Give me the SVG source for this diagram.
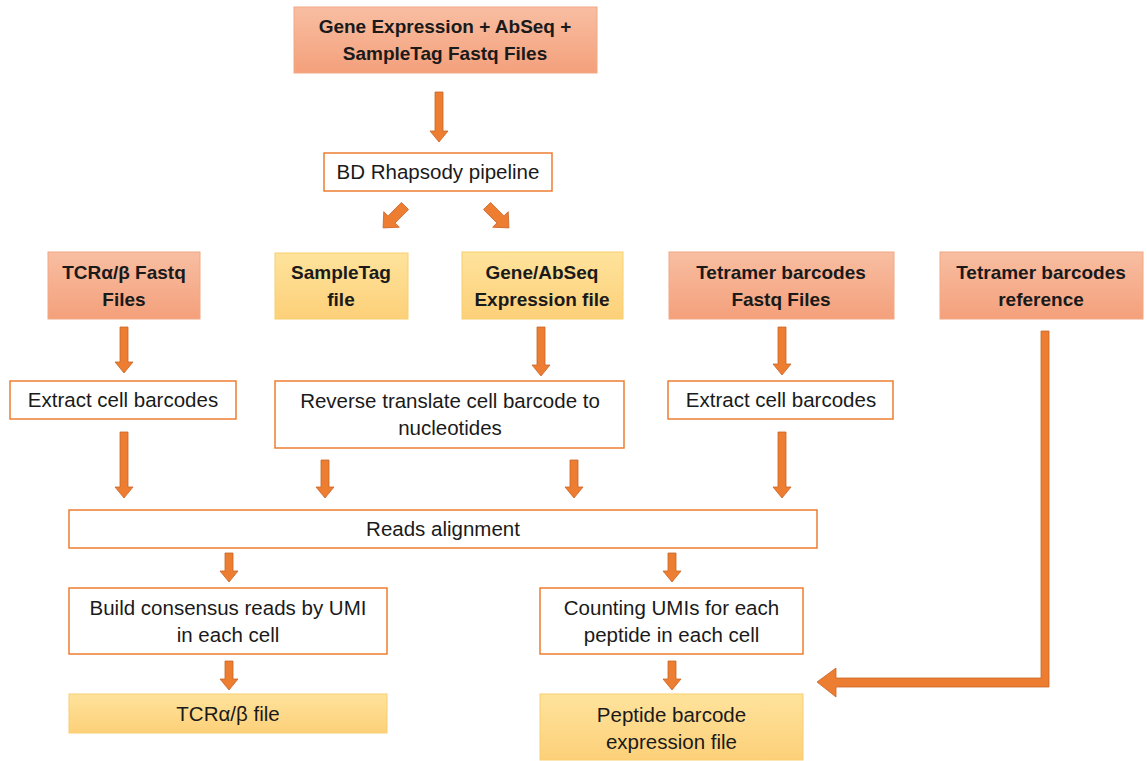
<svg xmlns="http://www.w3.org/2000/svg" width="1147" height="761" viewBox="0 0 1147 761">
<defs>
<linearGradient id="salmon" x1="0" y1="0" x2="0" y2="1">
<stop offset="0" stop-color="#f8bea2"/>
<stop offset="1" stop-color="#f4a07b"/>
</linearGradient>
<linearGradient id="yellow" x1="0" y1="0" x2="0" y2="1">
<stop offset="0" stop-color="#fee39c"/>
<stop offset="1" stop-color="#fdd079"/>
</linearGradient>
<style>
.s{fill:url(#salmon);stroke:#f1a883;stroke-width:1}
.y{fill:url(#yellow);stroke:#f8cf6f;stroke-width:1}
.w{fill:#ffffff;stroke:#ed7d31;stroke-width:1.5}
.b{font-family:"Liberation Sans",Arial,sans-serif;font-weight:bold;font-size:19px;fill:#1a1a1a;text-anchor:middle}
.t{font-family:"Liberation Sans",Arial,sans-serif;font-size:20.5px;fill:#1a1a1a;text-anchor:middle}
.a{fill:#ed7d31;stroke:#c8652a;stroke-width:0.8}
</style>
</defs>
<rect width="1147" height="761" fill="#ffffff"/>

<g id="connectors">
<polygon class="a" points="435,92 443,92 443,131 448,131 439,142 430,131 435,131"/>
<polygon class="a" transform="translate(405,206) rotate(45)" points="-5,0 5,0 5,19 11,19 0,31 -11,19 -5,19"/>
<polygon class="a" transform="translate(487,206) rotate(-45)" points="-5,0 5,0 5,19 11,19 0,31 -11,19 -5,19"/>
<polygon class="a" points="120,327 128,327 128,362 133,362 124,373 115,362 120,362"/>
<polygon class="a" points="537,327 545,327 545,365 550,365 541,376 532,365 537,365"/>
<polygon class="a" points="778,327 786,327 786,364 791,364 782,375 773,364 778,364"/>
<polygon class="a" points="120,432 128,432 128,487 133,487 124,498 115,487 120,487"/>
<polygon class="a" points="321,460 329,460 329,487 334,487 325,498 316,487 321,487"/>
<polygon class="a" points="570,460 578,460 578,487 583,487 574,498 565,487 570,487"/>
<polygon class="a" points="778,432 786,432 786,487 791,487 782,498 773,487 778,487"/>
<polygon class="a" points="225,553 233,553 233,571 238,571 229,582 220,571 225,571"/>
<polygon class="a" points="668,553 676,553 676,571 681,571 672,582 663,571 668,571"/>
<polygon class="a" points="225,661 233,661 233,679 238,679 229,690 220,679 225,679"/>
<polygon class="a" points="668,661 676,661 676,679 681,679 672,690 663,679 668,679"/>
<polygon class="a" points="1041,331 1049,331 1049,687 836,687 836,697 817,682 836,668 836,678 1041,678"/>
</g>

<g id="n-fastq-main">
<rect class="s" x="294" y="7" width="303" height="66"/>
<text class="b" x="445" y="33">Gene Expression + AbSeq +</text>
<text class="b" x="445" y="60">SampleTag Fastq Files</text>
</g>

<g id="n-bd">
<rect class="w" x="324" y="153" width="228" height="38"/>
<text class="t" x="438" y="179">BD Rhapsody pipeline</text>
</g>

<g id="n-tcr-fastq">
<rect class="s" x="48" y="252" width="152" height="67"/>
<text class="b" x="124" y="279">TCRα/β Fastq</text>
<text class="b" x="124" y="306">Files</text>
</g>

<g id="n-sampletag">
<rect class="y" x="275" y="253" width="133" height="66"/>
<text class="b" x="341" y="279">SampleTag</text>
<text class="b" x="341" y="306">file</text>
</g>

<g id="n-geneabseq">
<rect class="y" x="462" y="252" width="161" height="67"/>
<text class="b" x="542" y="279">Gene/AbSeq</text>
<text class="b" x="542" y="306">Expression file</text>
</g>

<g id="n-tet-fastq">
<rect class="s" x="669" y="252" width="225" height="67"/>
<text class="b" x="781" y="279">Tetramer barcodes</text>
<text class="b" x="781" y="306">Fastq Files</text>
</g>

<g id="n-tet-ref">
<rect class="s" x="940" y="252" width="203" height="67"/>
<text class="b" x="1041" y="279">Tetramer barcodes</text>
<text class="b" x="1041" y="306">reference</text>
</g>

<g id="n-extract-left">
<rect class="w" x="10" y="381" width="226" height="38"/>
<text class="t" x="123" y="407">Extract cell barcodes</text>
</g>

<g id="n-reverse">
<rect class="w" x="275" y="381" width="349" height="67"/>
<text class="t" x="450" y="408">Reverse translate cell barcode to</text>
<text class="t" x="450" y="435">nucleotides</text>
</g>

<g id="n-extract-right">
<rect class="w" x="668" y="381" width="225" height="38"/>
<text class="t" x="781" y="407">Extract cell barcodes</text>
</g>

<g id="n-reads">
<rect class="w" x="69" y="510" width="748" height="38"/>
<text class="t" x="443" y="536">Reads alignment</text>
</g>

<g id="n-consensus">
<rect class="w" x="69" y="588" width="318" height="66"/>
<text class="t" x="228" y="615">Build consensus reads by UMI</text>
<text class="t" x="228" y="642">in each cell</text>
</g>

<g id="n-counting">
<rect class="w" x="540" y="588" width="263" height="66"/>
<text class="t" x="671.5" y="615">Counting UMIs for each</text>
<text class="t" x="671.5" y="642">peptide in each cell</text>
</g>

<g id="n-tcr-file">
<rect class="y" x="69" y="694" width="318" height="39"/>
<text class="t" x="228" y="721">TCRα/β file</text>
</g>

<g id="n-peptide">
<rect class="y" x="540" y="694" width="263" height="66"/>
<text class="t" x="671.5" y="722">Peptide barcode</text>
<text class="t" x="671.5" y="749">expression file</text>
</g>
</svg>
